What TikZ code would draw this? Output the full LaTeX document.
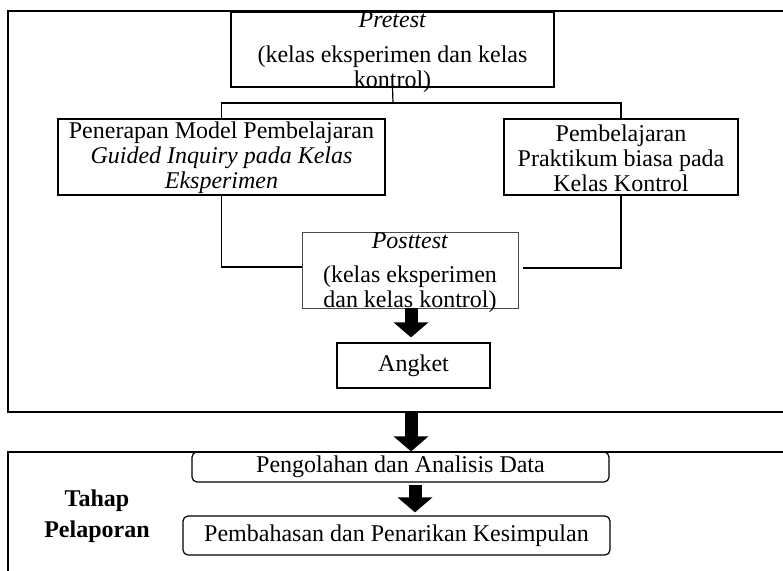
\documentclass[tikz,border=0pt]{standalone}
\usepackage{fontspec}
\setmainfont{Liberation Serif}
\usetikzlibrary{arrows.meta}

% fixed size box, text may run over the border
\newcommand{\boxlines}[3]{\parbox[c][#2][c]{#1}{\centering #3}}

\begin{document}
\begin{tikzpicture}[x=0.5pt,y=-0.5pt,
    box/.style={draw, line width=0.6pt, inner sep=0pt, align=center,
      font=\fontsize{12}{12.5}\selectfont},
    roundbox/.style={box, rounded corners=2.5pt},
    frame/.style={line width=0.9pt},
    bigarrow/.style={line width=6.5pt, -{Triangle[width=17pt,length=7.5pt]}},
  ]
      \def\xmin{0}
      \def\xmax{783}
      \def\ymin{0}
      \def\ymax{570}

      \useasboundingbox (\xmin,\ymin) rectangle (\xmax,\ymax);
      \clip (\xmin,\ymin) rectangle (\xmax,\ymax);

      % outer frames
      \draw[frame] (8,11) rectangle (800,412);
      \draw[line width=0.6pt] (8,452) rectangle (800,600);

      \node[box] (pre) at (392.5,49.5)
        {\boxlines{161.5pt}{37.5pt}{\vspace*{3pt}\textit{Pretest}\\[5pt](kelas eksperimen dan kelas\\kontrol)}};

      \node[box] (exp) at (221.5,157)
        {\boxlines{163.5pt}{38pt}{\vspace*{1pt}Penerapan Model Pembelajaran\\\textit{Guided Inquiry pada Kelas}\\\textit{Eksperimen}}};
      \node[box] (kon) at (621,157)
        {\boxlines{117pt}{38pt}{\vspace*{1pt}Pembelajaran\\Praktikum biasa pada\\Kelas Kontrol}};

      \node[box, draw=black!70, line width=0.4pt] (post) at (410,270)
        {\boxlines{108pt}{38pt}{\vspace*{3pt}\textit{Posttest}\\[4.5pt](kelas eksperimen\\dan kelas kontrol)}};

      \node[box, minimum width=76.5pt, minimum height=22.5pt] (angket) at (413.5,365.5) {Angket};

      \node[roundbox, minimum width=208.5pt, minimum height=15pt] (olah) at (400.5,467)
        {Pengolahan dan Analisis Data};
      \node[roundbox, minimum width=213.5pt, minimum height=19.5pt] (bahas) at (396.5,535.5)
        {Pembahasan dan Penarikan Kesimpulan};

      \node[align=center, font=\fontsize{12}{12.5}\selectfont\bfseries] (tahap) at (97,516)
        {Tahap\\[3pt]Pelaporan};

      \coordinate (split) at (393,103);
      \coordinate (a1) at (411,308);
      \coordinate (a2) at (411,412);
      \coordinate (a3) at (415,485);

      \draw[line width=0.6pt] (pre.south) -- (split);
      \draw[line width=0.6pt] (exp.north) |- (split) -| (kon.north);
      \draw[line width=0.6pt] (exp.south) |- ([yshift=1.5pt]post.west);
      \draw[line width=0.6pt, shorten >=2.5pt] (kon.south) |- ([yshift=1pt]post.east);

      \draw[bigarrow, shorten >=2.5pt] (a1) -- (a1 |- angket.north);
      \draw[bigarrow] (a2) -- (a2 |- olah.north);
      \draw[bigarrow, shorten >=1.5pt] (a3) -- (a3 |- bahas.north);
    \end{tikzpicture}
\end{document}
